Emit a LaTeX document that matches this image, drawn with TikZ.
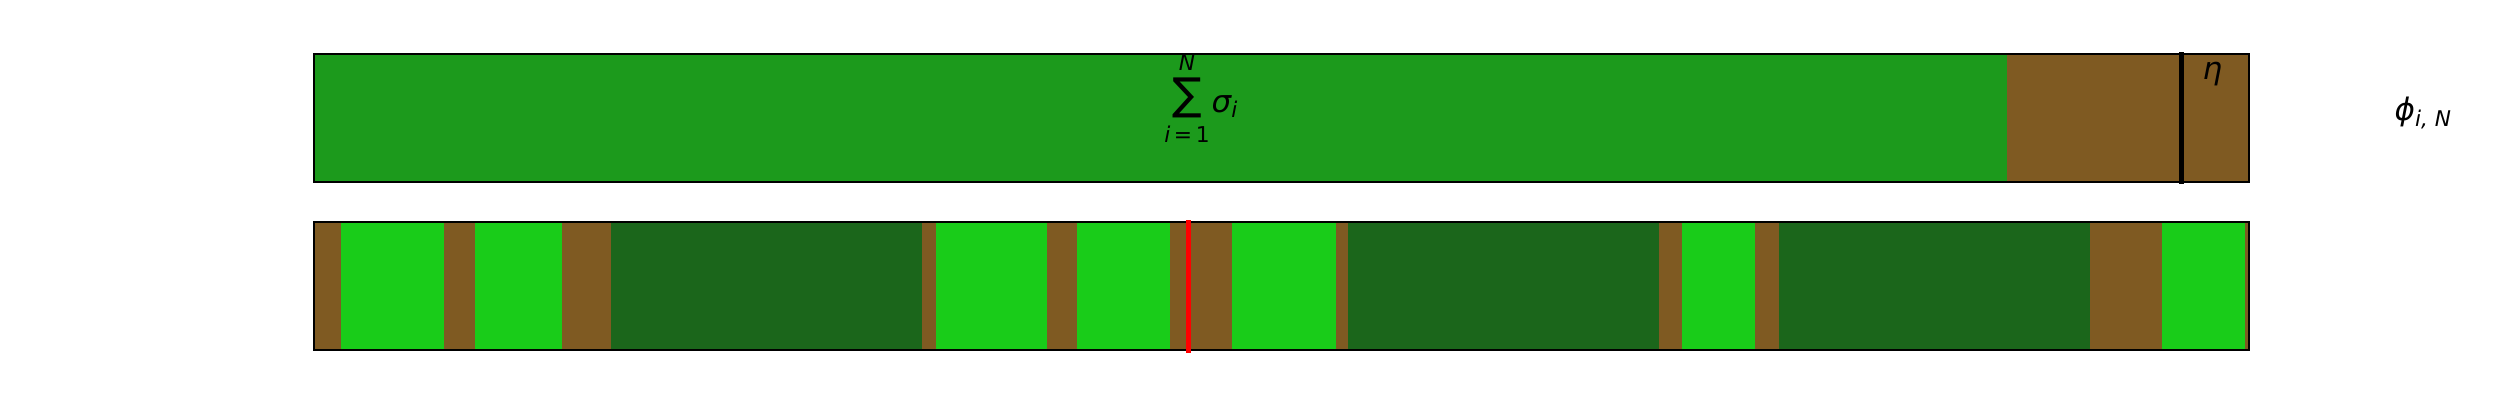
\documentclass[tikz,border=0pt]{standalone}
\usepackage{fontspec}
\setmainfont{DejaVu Sans}[ItalicFont={DejaVu Sans Oblique}]
\usetikzlibrary{positioning}
\definecolor{frGreen}{HTML}{1C9A1C}
\definecolor{frBrown}{HTML}{7F5A22}
\definecolor{frLight}{HTML}{19CC19}
\definecolor{frDark}{HTML}{1B661B}
\definecolor{frMark}{HTML}{FF0000}
\tikzset{
    frFrame/.style={draw=black, line width=0.57pt},
    frMarker/.style={line width=1.42pt, line cap=rect},
    frMath/.style={inner sep=0pt, font=\fontsize{8.8}{10}\selectfont\itshape},
    frSmall/.style={inner sep=0pt, font=\fontsize{6.2}{7}\selectfont},
    frBig/.style={inner sep=0pt, font=\fontsize{12.5}{12.5}\selectfont}
}

\begin{document}
\begin{tikzpicture}[x=0.01cm, y=-0.01cm]
\useasboundingbox (0,0) rectangle (2500,400);

% ===== TOP: summed bar with threshold =====
\fill[frGreen] (313.5,54) rectangle (2007,182);
\fill[frBrown] (2007,54) rectangle (2249,182);
\draw[frFrame] (313.5,54) rectangle (2249,182);
\draw[frMarker, black] (2181,54) -- (2181,182);

\node[frBig] (sumop) at (1187,98) {∑};
\node[frSmall, above=1.7pt of sumop] (sumtop) {\itshape N};
\node[frSmall, below=1.9pt of sumop] (sumbot) {{\itshape i}\,=\,1};
\node[frMath, anchor=base west] (sigma) at (1211,112) {σ\textsubscript{i}};

\node[frMath] (eta) at (2212.5,74) {η};
\node[frMath, anchor=base west] (phi) at (2394,120.5) {ϕ\textsubscript{i, N}};

% ===== BOTTOM: segment sequence =====
\foreach \xa/\xb/\col in {
    313.5/340.5/frBrown, 340.5/444/frLight, 444/474.5/frBrown,
    474.5/562/frLight, 562/611/frBrown, 611/922/frDark,
    922/936/frBrown, 936/1047/frLight, 1047/1077/frBrown,
    1077/1170/frLight, 1170/1232/frBrown, 1232/1336/frLight,
    1336/1348/frBrown, 1348/1658.5/frDark, 1658.5/1681.7/frBrown,
    1681.7/1755/frLight, 1755/1779/frBrown, 1779/2090/frDark,
    2090/2162/frBrown, 2162/2245/frLight, 2245/2249/frBrown}
    \fill[\col] (\xa,222) rectangle (\xb,350);
\draw[frFrame] (313.5,222) rectangle (2249,350);
\draw[frMarker, frMark] (1188,222) -- (1188,350);

\end{tikzpicture}
\end{document}
